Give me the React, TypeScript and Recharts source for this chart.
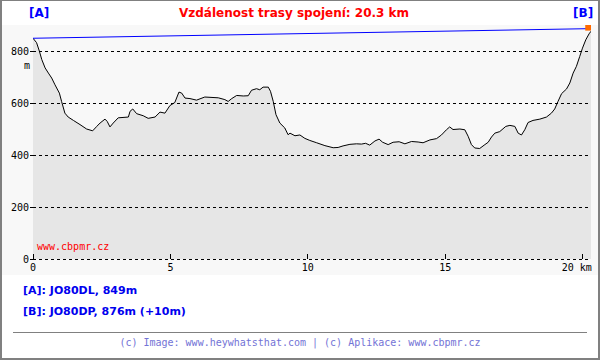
import React from 'react'
import { ComposedChart, Area, Line, Scatter, XAxis, YAxis, ReferenceLine } from 'recharts'

// terrain profile, distance in km / elevation in m
const distKm = [
  0.0, 0.13, 0.23, 0.32, 0.44, 0.56, 0.68, 0.8, 0.96, 1.04, 1.16, 1.28, 1.47, 1.71, 1.95, 2.17,
  2.32, 2.44, 2.62, 2.7, 2.8, 2.92, 3.1, 3.47, 3.53, 3.63, 3.77, 4.01, 4.19, 4.44, 4.62, 4.8,
  4.98, 5.16, 5.31, 5.41, 5.53, 5.71, 5.95, 6.25, 6.74, 6.98, 7.1, 7.23, 7.41, 7.65, 7.83, 7.95,
  8.13, 8.25, 8.37, 8.56, 8.64, 8.74, 8.84, 8.98, 9.16, 9.28, 9.35, 9.53, 9.71, 9.89, 10.07, 10.32,
  10.62, 10.92, 11.1, 11.28, 11.53, 11.77, 11.95, 12.1, 12.25, 12.44, 12.59, 12.72, 12.92, 13.1, 13.32, 13.53,
  13.77, 14.01, 14.19, 14.44, 14.68, 14.86, 15.04, 15.16, 15.28, 15.53, 15.71, 15.83, 15.95, 16.07, 16.25, 16.44,
  16.56, 16.68, 16.8, 16.98, 17.2, 17.35, 17.53, 17.65, 17.77, 17.89, 18.01, 18.19, 18.44, 18.68, 18.86, 18.98,
  19.1, 19.23, 19.41, 19.53, 19.65, 19.77, 19.89, 19.99, 20.11, 20.23, 20.3
]
const elevM = [
  849, 832, 800, 767, 735, 715, 696, 670, 638, 606, 561, 546, 533, 517, 500, 493,
  510, 523, 538, 529, 508, 523, 543, 546, 568, 577, 559, 551, 541, 546, 565, 561,
  590, 602, 642, 638, 619, 617, 611, 623, 620, 613, 606, 617, 629, 627, 628, 649,
  655, 651, 661, 661, 645, 606, 555, 523, 504, 478, 484, 474, 477, 464, 456, 447,
  436, 428, 429, 435, 441, 443, 442, 445, 438, 454, 461, 449, 440, 449, 451, 443,
  452, 450, 447, 458, 463, 477, 497, 508, 498, 500, 497, 472, 440, 427, 425, 440,
  449, 469, 484, 490, 510, 514, 510, 484, 477, 497, 525, 533, 538, 546, 561, 577,
  606, 636, 654, 677, 715, 741, 779, 811, 843, 866, 876
]

// line of sight A -> B (antenna +10 m at B)
const sightDist = [0, 20.3]
const sightElev = [849, 886]

const markerDist = [20.2]
const markerElev = [890]

const yTicks = [0, 200, 400, 600, 800]
const xTicks = [0, 5, 10, 15, 20]

const mono = '"DejaVu Sans Mono", monospace'
const sans = '"DejaVu Sans", Verdana, sans-serif'

const profile = distKm.map((d, i) => ({ dist: d, elev: elevM[i] }))
const sight = sightDist.map((d, i) => ({ dist: d, elev: sightElev[i] }))
const marker = markerDist.map((d, i) => ({ dist: d, elev: markerElev[i] }))

const XTick = (props: any) => {
  const { x, y, payload } = props
  const last = payload.value === 20
  return (
    <g>
      <line x1={x} x2={x} y1={y - 5} y2={y} stroke="#000" shapeRendering="crispEdges" />
      <text
        x={last ? x + 9 : x}
        y={y + 12}
        textAnchor={last ? 'end' : 'middle'}
        fontFamily={mono}
        fontSize={10}
        fill="#000"
      >
        {last ? '20 km' : payload.value}
      </text>
    </g>
  )
}

const Square = (props: any) => {
  const { cx, cy } = props
  return <rect x={cx - 3} y={cy - 3} width={6} height={6} fill="#ff6a00" />
}

const abs = (style: React.CSSProperties): React.CSSProperties => ({ position: 'absolute', whiteSpace: 'nowrap', ...style })

export default function App() {
  return (
    <div style={abs({ left: 0, top: 0, width: 600, height: 360, background: '#fff' })}>
      <div style={abs({ left: 2, top: 25, width: 596, height: 250, background: '#f8f8f8' })} />
      <div style={abs({ left: 0, top: 0 })}>
        <ComposedChart width={600} height={360} margin={{ top: 25, right: 9, left: 0, bottom: 0 }}>
          <XAxis
            dataKey="dist"
            type="number"
            domain={[0, 20.3]}
            ticks={xTicks}
            height={101}
            axisLine={false}
            tickLine={false}
            tickSize={0}
            tickMargin={0}
            tick={<XTick />}
            allowDataOverflow
          />
          <YAxis
            type="number"
            domain={[0, 900]}
            ticks={yTicks}
            width={33}
            axisLine={false}
            tickSize={3}
            tickMargin={1}
            tickLine={{ stroke: '#000', shapeRendering: 'crispEdges' }}
            tick={{ fill: '#000', fontFamily: mono, fontSize: 10 }}
            allowDataOverflow
          />
          <Area
            data={profile}
            dataKey="elev"
            type="linear"
            stroke="#000"
            strokeWidth={1}
            fill="#e6e6e6"
            fillOpacity={1}
            isAnimationActive={false}
          />
          {yTicks.map((v) => (
            <ReferenceLine key={v} y={v} stroke="#000" strokeDasharray="3 3" shapeRendering="crispEdges" />
          ))}
          <Line
            data={sight}
            dataKey="elev"
            type="linear"
            stroke="#0000ff"
            strokeWidth={1}
            dot={false}
            isAnimationActive={false}
          />
          <Scatter data={marker} dataKey="elev" shape={<Square />} isAnimationActive={false} />
        </ComposedChart>
      </div>

      <div style={abs({ left: 0, top: 0, width: 600, height: 360, boxSizing: 'border-box', borderStyle: 'solid', borderColor: '#808080', borderWidth: '1px 2px 2px 2px' })} />

      <div style={abs({ left: 29, top: 6, lineHeight: '17px', font: `bold 12px ${sans}`, color: '#0000ff' })}>[A]</div>
      <div style={abs({ left: 179, top: 6, lineHeight: '17px', font: `bold 12px ${sans}`, color: '#ff0000' })}>
        Vzdálenost trasy spojení: 20.3 km
      </div>
      <div style={abs({ left: 573, top: 6, lineHeight: '17px', font: `bold 12px ${sans}`, color: '#0000ff' })}>[B]</div>

      <div style={abs({ left: 24, top: 60, lineHeight: '15px', font: `10px ${mono}`, color: '#000' })}>m</div>
      <div style={abs({ left: 37, top: 241, lineHeight: '15px', font: `10px ${mono}`, color: '#ff0000' })}>www.cbpmr.cz</div>

      <div style={abs({ left: 23, top: 284, lineHeight: '16px', font: `bold 11px ${sans}`, color: '#0000ee' })}>[A]: JO80DL, 849m</div>
      <div style={abs({ left: 23, top: 305, lineHeight: '16px', font: `bold 11px ${sans}`, color: '#0000ee' })}>[B]: JO80DP, 876m (+10m)</div>

      <div style={abs({ left: 13, top: 332, width: 574, height: 1, background: '#808080' })} />
      <div style={abs({ left: 0, top: 337, width: 600, lineHeight: '15px', textAlign: 'center', font: `10px ${mono}`, color: '#7373d6' })}>
        (c) Image: www.heywhatsthat.com | (c) Aplikace: www.cbpmr.cz
      </div>
    </div>
  )
}
